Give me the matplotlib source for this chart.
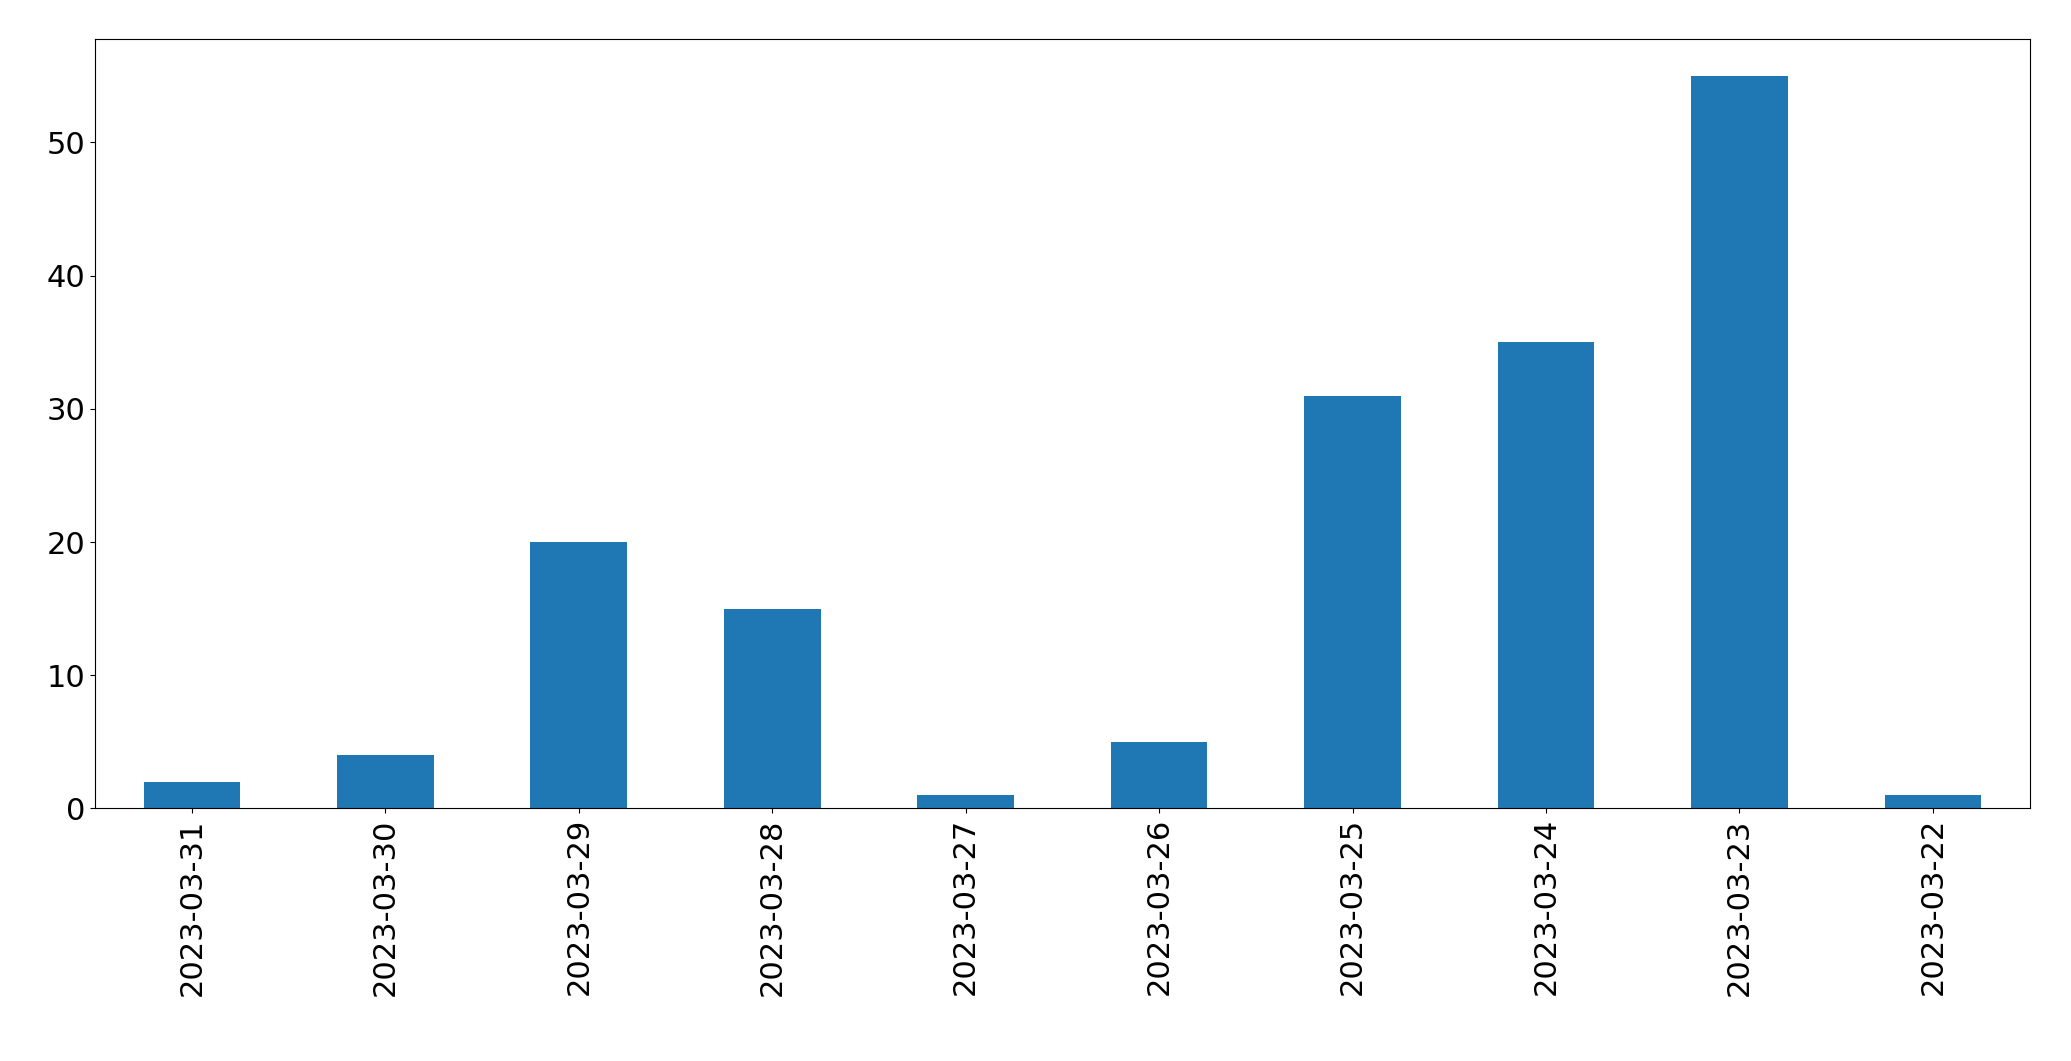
import matplotlib
matplotlib.use('Agg')
import matplotlib.pyplot as plt

dates = ['2023-03-31', '2023-03-30', '2023-03-29', '2023-03-28', '2023-03-27',
         '2023-03-26', '2023-03-25', '2023-03-24', '2023-03-23', '2023-03-22']
counts = [2, 4, 20, 15, 1, 5, 31, 35, 55, 1]

fig = plt.figure(figsize=(20.71, 10.61), dpi=100)
ax = fig.add_axes([0.046, 0.238, 0.934, 0.725])
x = range(len(dates))
ax.bar(x, counts, width=0.5, color='#1f77b4')
ax.set_xlim(-0.5, len(dates) - 0.5)
ax.set_ylim(0, max(counts) * 1.05)
ax.set_xticks(list(x))
ax.set_xticklabels(dates, rotation=90, fontsize=22)
ax.tick_params(axis='y', labelsize=22)
fig.savefig('out.png', dpi=100)
